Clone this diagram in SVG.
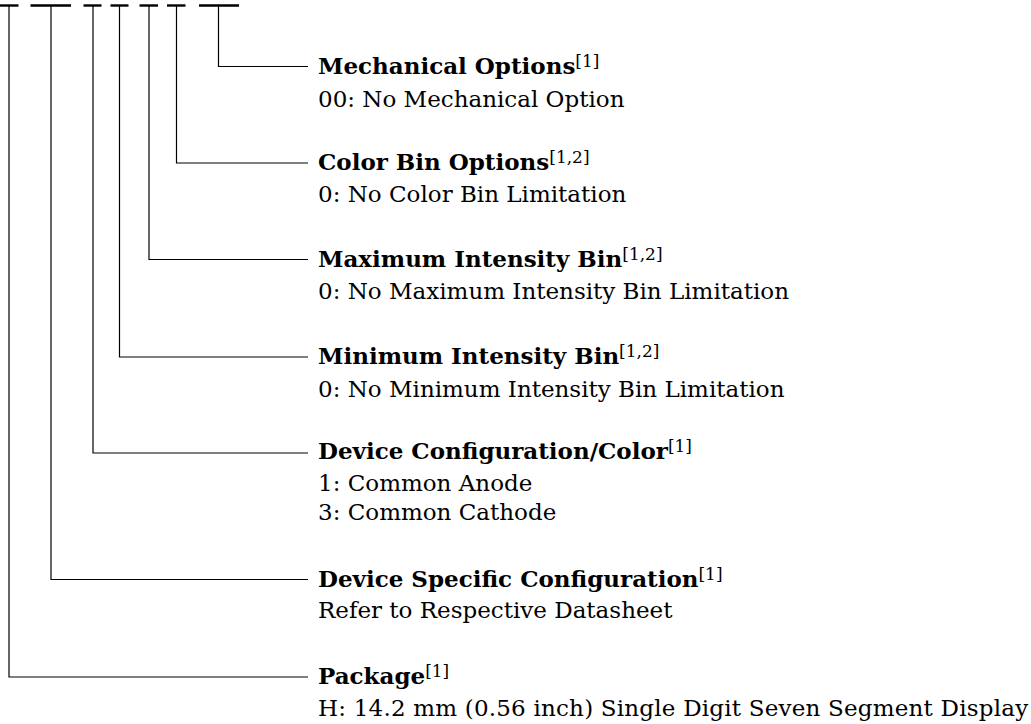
<svg xmlns="http://www.w3.org/2000/svg" width="1031" height="724" viewBox="0 0 1031 724">
<style>
.bar{stroke:#000;stroke-width:2.4;fill:none}
.ln{stroke:#000;stroke-width:1.2;fill:none}
text{font-family:"DejaVu Serif","Liberation Serif",serif;font-size:23px;fill:#000}
.t{font-weight:bold}
.sup{font-size:17px;font-weight:normal}
</style>
<rect width="1031" height="724" fill="#fff"/>
<g id="code-bars">
<line class="bar" x1="0" y1="5.5" x2="18.5" y2="5.5"/>
<line class="bar" x1="30.5" y1="5.5" x2="71" y2="5.5"/>
<line class="bar" x1="83.5" y1="5.5" x2="101.5" y2="5.5"/>
<line class="bar" x1="110.5" y1="5.5" x2="128.5" y2="5.5"/>
<line class="bar" x1="139.5" y1="5.5" x2="158" y2="5.5"/>
<line class="bar" x1="167" y1="5.5" x2="185.5" y2="5.5"/>
<line class="bar" x1="199" y1="5.5" x2="239" y2="5.5"/>
</g>
<g id="connectors">
<polyline class="ln" points="218.5,6 218.5,66.5 308,66.5"/>
<polyline class="ln" points="176.5,6 176.5,163 308,163"/>
<polyline class="ln" points="149,6 149,259.5 308,259.5"/>
<polyline class="ln" points="119.5,6 119.5,357 308,357"/>
<polyline class="ln" points="93,6 93,453 308,453"/>
<polyline class="ln" points="51,6 51,579.5 308,579.5"/>
<polyline class="ln" points="9,6 9,677 308,677"/>
</g>
<g id="mechanical">
<text x="318" y="74"><tspan class="t">Mechanical Options</tspan><tspan class="sup" dy="-7">[1]</tspan></text>
<text x="318" y="107">00: No Mechanical Option</text>
</g>
<g id="color-bin">
<text x="318" y="170"><tspan class="t">Color Bin Options</tspan><tspan class="sup" dy="-7">[1,2]</tspan></text>
<text x="318" y="202">0: No Color Bin Limitation</text>
</g>
<g id="max-intensity">
<text x="318" y="267"><tspan class="t">Maximum Intensity Bin</tspan><tspan class="sup" dy="-7">[1,2]</tspan></text>
<text x="318" y="299">0: No Maximum Intensity Bin Limitation</text>
</g>
<g id="min-intensity">
<text x="318" y="364"><tspan class="t">Minimum Intensity Bin</tspan><tspan class="sup" dy="-7">[1,2]</tspan></text>
<text x="318" y="397">0: No Minimum Intensity Bin Limitation</text>
</g>
<g id="device-config">
<text x="318" y="459"><tspan class="t">Device Configuration/Color</tspan><tspan class="sup" dy="-7">[1]</tspan></text>
<text x="318" y="491">1: Common Anode</text>
<text x="318" y="520">3: Common Cathode</text>
</g>
<g id="device-specific">
<text x="318" y="587"><tspan class="t">Device Specific Configuration</tspan><tspan class="sup" dy="-7">[1]</tspan></text>
<text x="318" y="618">Refer to Respective Datasheet</text>
</g>
<g id="package">
<text x="318" y="684"><tspan class="t">Package</tspan><tspan class="sup" dy="-7">[1]</tspan></text>
<text x="318" y="716" letter-spacing="0.2">H: 14.2 mm (0.56 inch) Single Digit Seven Segment Display</text>
</g>
</svg>
